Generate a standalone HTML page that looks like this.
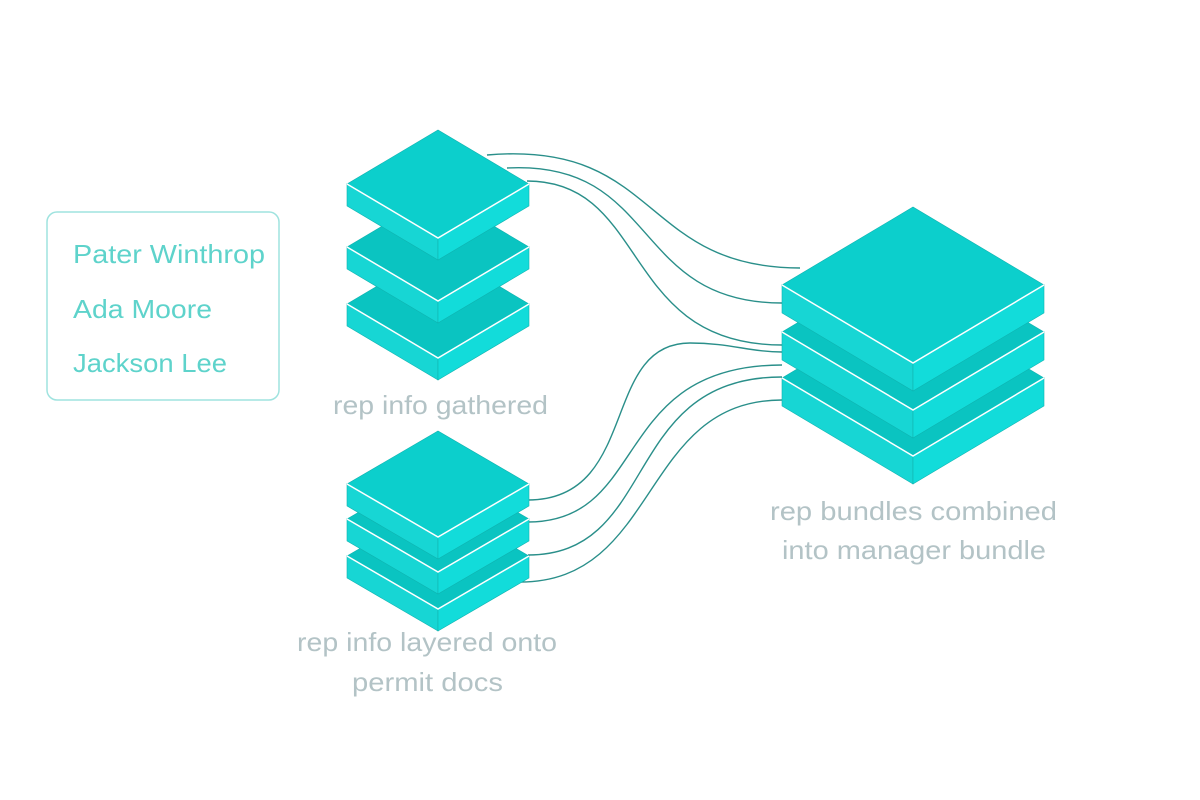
<!DOCTYPE html>
<html><head><style>
html,body{margin:0;padding:0;background:#fff;}
svg{display:block;}
text{font-family:"Liberation Sans",sans-serif;}
</style></head><body>
<svg width="1200" height="800" viewBox="0 0 1200 800" xmlns="http://www.w3.org/2000/svg">
<g fill="none" stroke="#2a8f8a" stroke-width="1.4">
<path d="M487,155 C660,140 640,268 800,268"/>
<path d="M507,168 C660,160 630,303 782,303"/>
<path d="M527,181 C650,181 620,345 782,345"/>
<path d="M528,500 C640,500 600,343 690,343 C730,343 750,352 782,352"/>
<path d="M528,522 C650,522 610,365 782,365"/>
<path d="M528,555 C660,555 620,377 782,377"/>
<path d="M520,582 C660,582 640,400 782,400"/>
</g>
<g stroke="#0fb3b0" stroke-width="0.6">
<polygon points="347,304 438,358 438,380 347,326" fill="#17d6d4"/>
<polygon points="438,358 529,304 529,326 438,380" fill="#12dcda"/>
<polygon points="347,304 438,250 529,304 438,358" fill="#0ac4c1"/>
<polyline points="347,304 438,358 529,304" stroke="#fff" stroke-width="1.5" fill="none"/>
<polygon points="347,247 438,301 438,323 347,269" fill="#17d6d4"/>
<polygon points="438,301 529,247 529,269 438,323" fill="#12dcda"/>
<polygon points="347,247 438,193 529,247 438,301" fill="#0ac4c1"/>
<polyline points="347,247 438,301 529,247" stroke="#fff" stroke-width="1.5" fill="none"/>
<polygon points="347,184 438,238 438,260 347,206" fill="#17d6d4"/>
<polygon points="438,238 529,184 529,206 438,260" fill="#12dcda"/>
<polygon points="347,184 438,130 529,184 438,238" fill="#0ccfcc"/>
<polyline points="347,184 438,238 529,184" stroke="#fff" stroke-width="1.5" fill="none"/>
</g>
<g stroke="#0fb3b0" stroke-width="0.6">
<polygon points="347,556 438,609 438,631 347,578" fill="#17d6d4"/>
<polygon points="438,609 529,556 529,578 438,631" fill="#12dcda"/>
<polygon points="347,556 438,503 529,556 438,609" fill="#0ac4c1"/>
<polyline points="347,556 438,609 529,556" stroke="#fff" stroke-width="1.5" fill="none"/>
<polygon points="347,519 438,572 438,594 347,541" fill="#17d6d4"/>
<polygon points="438,572 529,519 529,541 438,594" fill="#12dcda"/>
<polygon points="347,519 438,466 529,519 438,572" fill="#0ac4c1"/>
<polyline points="347,519 438,572 529,519" stroke="#fff" stroke-width="1.5" fill="none"/>
<polygon points="347,484 438,537 438,559 347,506" fill="#17d6d4"/>
<polygon points="438,537 529,484 529,506 438,559" fill="#12dcda"/>
<polygon points="347,484 438,431 529,484 438,537" fill="#0ccfcc"/>
<polyline points="347,484 438,537 529,484" stroke="#fff" stroke-width="1.5" fill="none"/>
</g>
<g stroke="#0fb3b0" stroke-width="0.6">
<polygon points="782,378 913,456 913,484 782,406" fill="#17d6d4"/>
<polygon points="913,456 1044,378 1044,406 913,484" fill="#12dcda"/>
<polygon points="782,378 913,300 1044,378 913,456" fill="#0ac4c1"/>
<polyline points="782,378 913,456 1044,378" stroke="#fff" stroke-width="1.5" fill="none"/>
<polygon points="782,332 913,410 913,438 782,360" fill="#17d6d4"/>
<polygon points="913,410 1044,332 1044,360 913,438" fill="#12dcda"/>
<polygon points="782,332 913,254 1044,332 913,410" fill="#0ac4c1"/>
<polyline points="782,332 913,410 1044,332" stroke="#fff" stroke-width="1.5" fill="none"/>
<polygon points="782,285 913,363 913,391 782,313" fill="#17d6d4"/>
<polygon points="913,363 1044,285 1044,313 913,391" fill="#12dcda"/>
<polygon points="782,285 913,207 1044,285 913,363" fill="#0ccfcc"/>
<polyline points="782,285 913,363 1044,285" stroke="#fff" stroke-width="1.5" fill="none"/>
</g>
<rect x="47" y="212" width="232" height="188" rx="10" fill="#fff" stroke="#9fe3df" stroke-width="1.5"/>
<g fill="#5ed3cb" font-size="26">
<text x="73" y="263" textLength="192" lengthAdjust="spacingAndGlyphs">Pater Winthrop</text>
<text x="73" y="318" textLength="139" lengthAdjust="spacingAndGlyphs">Ada Moore</text>
<text x="73" y="372" textLength="154" lengthAdjust="spacingAndGlyphs">Jackson Lee</text>
</g>
<g fill="#b3c3c6" font-size="26">
<text x="333" y="414" textLength="215" lengthAdjust="spacingAndGlyphs">rep info gathered</text>
<text x="297" y="651" textLength="260" lengthAdjust="spacingAndGlyphs">rep info layered onto</text>
<text x="352" y="691" textLength="151" lengthAdjust="spacingAndGlyphs">permit docs</text>
<text x="770" y="520" textLength="287" lengthAdjust="spacingAndGlyphs">rep bundles combined</text>
<text x="782" y="559" textLength="264" lengthAdjust="spacingAndGlyphs">into manager bundle</text>
</g>
</svg>
</body></html>
